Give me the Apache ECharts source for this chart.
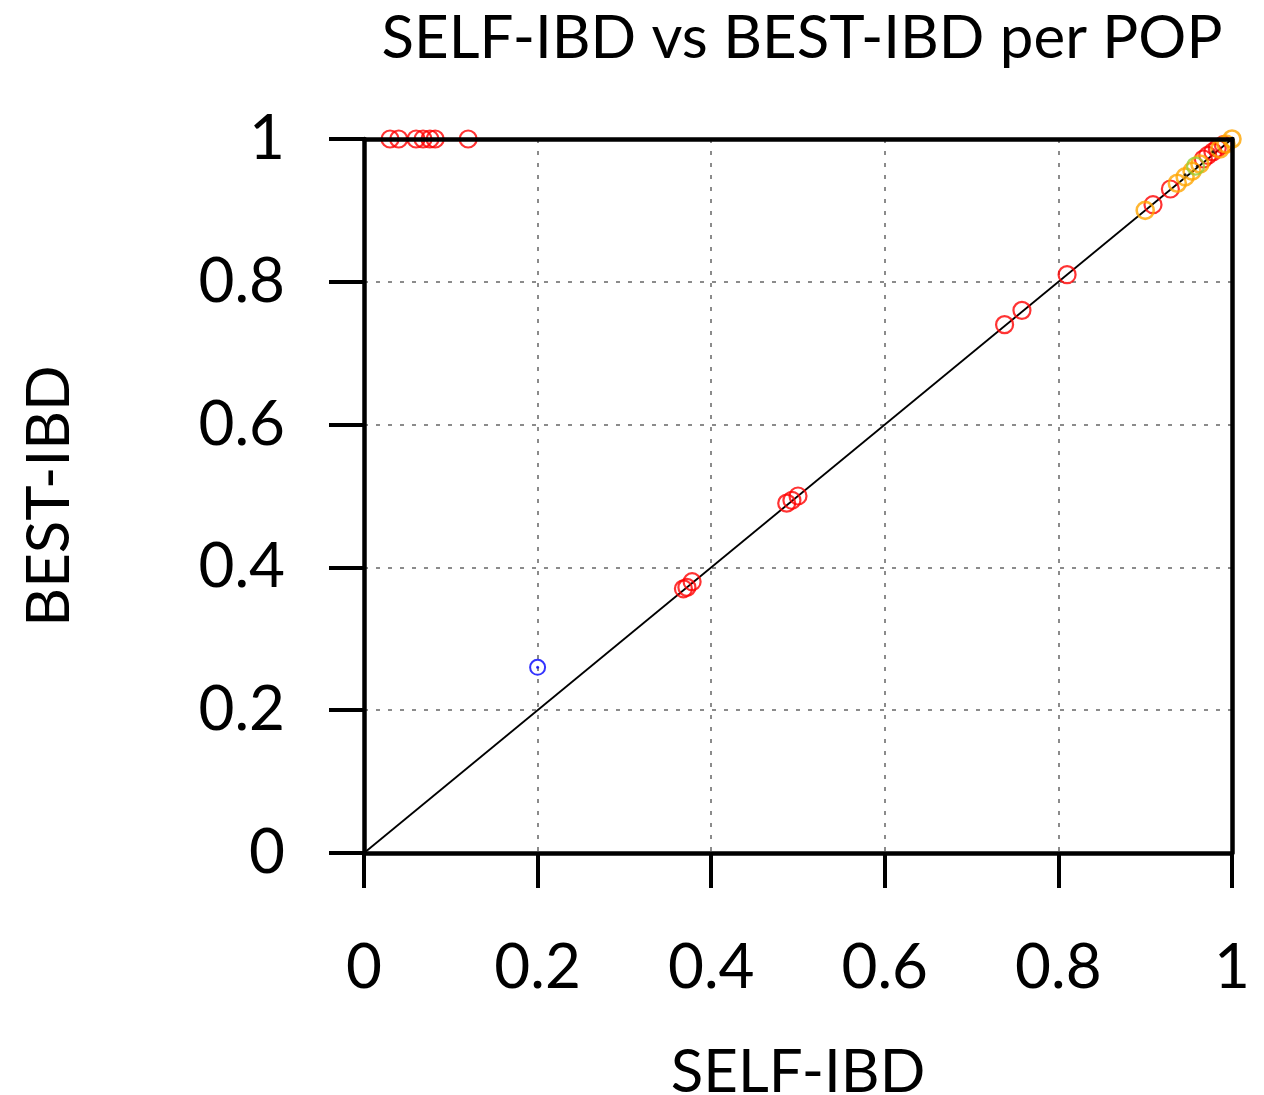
<!DOCTYPE html>
<html>
<head>
<meta charset="utf-8">
<script src="https://cdn.jsdelivr.net/npm/echarts@6/dist/echarts.min.js"></script>
<style>html,body{margin:0;padding:0;background:#fff;}#c{width:1264px;height:1095px;}</style>
</head>
<body>
<div id="c"></div>
<script>
const titleText = 'SELF-IBD vs BEST-IBD per POP';
const xName = 'SELF-IBD';
const yName = 'BEST-IBD';
const tickValues = [0, 0.2, 0.4, 0.6, 0.8, 1];

const redX = [0.03, 0.04, 0.06, 0.068, 0.076, 0.082, 0.12, 0.368, 0.372, 0.378, 0.487, 0.493, 0.5, 0.738, 0.758, 0.81, 0.909, 0.929, 0.967, 0.972, 0.978, 0.983, 0.99];
const redY = [1, 1, 1, 1, 1, 1, 1, 0.37, 0.372, 0.38, 0.49, 0.494, 0.5, 0.74, 0.76, 0.81, 0.908, 0.93, 0.972, 0.977, 0.982, 0.987, 0.992];
const orangeX = [0.9, 0.937, 0.946, 0.954, 0.963, 0.986, 0.993, 1.0];
const orangeY = [0.9, 0.938, 0.947, 0.955, 0.965, 0.986, 0.993, 1.0];
const greenX = [0.958];
const greenY = [0.962];
const blueX = [0.2];
const blueY = [0.26];
const dotX = [0.946, 0.96, 0.978];
const dotY = [0.95, 0.962, 0.982];
const diagX = [0, 1];
const diagY = [0, 1];

const zip = (a, b) => a.map((v, i) => [v, b[i]]);
const FONT = 'Lato';
const fmt = v => String(Math.round(v * 10) / 10);

const chart = echarts.init(document.getElementById('c'), null, {renderer: 'canvas'});
const axisCommon = {
  type: 'value', min: 0, max: 1, interval: 0.2,
  axisLine: {show: true, onZero: false, lineStyle: {color: '#000', width: 4.5}},
  axisTick: {show: true, inside: false, length: 35, lineStyle: {color: '#000', width: 4}},
  splitLine: {show: true, lineStyle: {color: '#666', width: 1.5, type: [4, 8]}},
  nameLocation: 'middle',
  nameTextStyle: {fontFamily: FONT, fontSize: 60, color: '#000'}
};
const frameAxis = {
  type: 'value', min: 0, max: 1, interval: 0.2,
  axisLine: {show: true, onZero: false, lineStyle: {color: '#000', width: 4.5}},
  axisTick: {show: false}, axisLabel: {show: false}, splitLine: {show: false}, z: 10
};
chart.setOption({
  animation: false,
  backgroundColor: '#fff',
  title: {
    text: titleText, left: 797, top: 4, textAlign: 'center',
    textStyle: {fontFamily: FONT, fontSize: 60, fontWeight: 'normal', color: '#000'}
  },
  grid: {left: 364, right: 32, top: 139, bottom: 242, show: false, outerBoundsMode: 'none', containLabel: false},
  xAxis: [
    Object.assign({}, axisCommon, {
      name: xName, nameGap: 190, position: 'bottom',
      axisLabel: {margin: 84, fontFamily: FONT, fontSize: 62, color: '#000', formatter: fmt}
    }),
    Object.assign({}, frameAxis, {position: 'top'})
  ],
  yAxis: [
    Object.assign({}, axisCommon, {
      name: yName, nameGap: 284, position: 'left',
      axisLabel: {margin: 79, fontFamily: FONT, fontSize: 62, color: '#000', formatter: fmt}
    }),
    Object.assign({}, frameAxis, {position: 'right'})
  ],
  series: [
    {type: 'line', data: zip(diagX, diagY), symbol: 'none', lineStyle: {color: '#000', width: 1.8}, z: 1},
    {type: 'scatter', data: zip(redX, redY), symbol: 'circle', symbolSize: 17,
      itemStyle: {color: 'transparent', borderColor: '#ff0000', borderWidth: 2.2}, z: 3},
    {type: 'scatter', data: zip(orangeX, orangeY), symbol: 'circle', symbolSize: 17,
      itemStyle: {color: 'transparent', borderColor: '#ffa500', borderWidth: 2.6}, z: 4},
    {type: 'scatter', data: zip(greenX, greenY), symbol: 'circle', symbolSize: 17,
      itemStyle: {color: 'transparent', borderColor: '#9acd32', borderWidth: 2.2}, z: 4},
    {type: 'scatter', data: zip(blueX, blueY), symbol: 'circle', symbolSize: 15,
      itemStyle: {color: 'transparent', borderColor: '#0000ff', borderWidth: 2}, z: 4},
    {type: 'scatter', data: zip(blueX, blueY), symbol: 'circle', symbolSize: 3,
      itemStyle: {color: '#0000ff'}, z: 5},
    {type: 'scatter', data: zip(dotX, dotY), symbol: 'circle', symbolSize: 3,
      itemStyle: {color: '#000'}, z: 5}
  ]
});
</script>
</body>
</html>
